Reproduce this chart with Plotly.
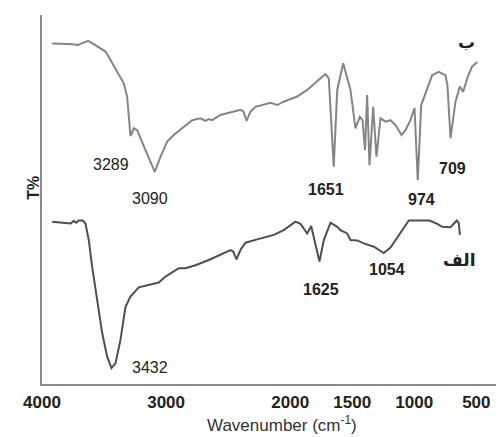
import plotly.graph_objects as go

# Upper spectrum (ب)
wn_b = [3918, 3746, 3716, 3690, 3628, 3593, 3488, 3448, 3394, 3341, 3314, 3301, 3287, 3260,
        3233, 3166, 3091, 3045, 2991, 2938, 2844, 2790, 2723, 2683, 2658, 2629, 2562, 2401,
        2376, 2352, 2320, 2280, 2159, 2105, 2054, 1944, 1863, 1783, 1716, 1689, 1649, 1621,
        1573, 1514, 1474, 1439, 1417, 1397, 1380, 1361, 1331, 1305, 1272, 1232, 1192, 1152,
        1103, 1071, 1031, 998, 972, 944, 896, 856, 803, 749, 733, 708, 668, 633, 606, 569,
        534, 493]
t_b = [92.3, 92.1, 91.8, 92.2, 93.0, 92.3, 90.1, 87.8, 84.6, 81.5, 77.9, 71.5, 67.2, 69.3,
       68.8, 63.4, 57.5, 61.6, 65.7, 67.5, 70.2, 71.5, 72.0, 71.3, 71.8, 71.5, 72.9, 74.3,
       73.8, 71.3, 73.8, 75.1, 76.2, 75.6, 76.5, 77.9, 79.7, 81.9, 84.0, 82.8, 58.9, 79.7,
       86.9, 79.7, 69.3, 72.4, 71.5, 63.4, 78.3, 59.3, 75.1, 61.6, 72.0, 71.1, 71.5, 70.2,
       67.5, 68.8, 71.5, 74.8, 55.3, 75.6, 80.1, 83.7, 84.6, 83.7, 81.0, 66.6, 76.5, 80.6,
       79.2, 83.3, 86.0, 87.3]

# Lower spectrum (الف)
wn_a = [3918, 3770, 3744, 3725, 3704, 3671, 3650, 3623, 3596, 3555, 3515, 3475, 3440, 3408,
        3368, 3327, 3287, 3220, 3139, 3059, 3005, 2938, 2898, 2844, 2763, 2642, 2481, 2459,
        2433, 2401, 2360, 2266, 2132, 2052, 1998, 1957, 1917, 1863, 1831, 1796, 1764, 1729,
        1675, 1621, 1595, 1541, 1514, 1460, 1407, 1326, 1246, 1192, 1119, 1044, 878, 815,
        775, 708, 658, 642, 632]
t_a = [44.0, 43.5, 44.2, 43.7, 44.3, 44.3, 43.5, 39.0, 31.8, 22.8, 13.8, 7.4, 4.3, 5.6,
       11.9, 20.9, 23.7, 26.2, 26.8, 27.5, 29.1, 30.6, 31.4, 31.4, 32.2, 33.8, 36.3, 35.9,
       33.8, 36.3, 38.3, 39.2, 40.4, 41.7, 43.1, 44.0, 43.4, 40.8, 42.8, 38.1, 33.2, 39.0,
       43.7, 42.6, 41.7, 40.8, 39.0, 38.9, 38.1, 37.2, 35.5, 37.0, 40.7, 44.3, 44.3, 43.4,
       42.6, 42.5, 44.3, 43.7, 40.4]

x_ticks = [4000, 3000, 2000, 1500, 1000, 500]

# Peak labels: (text, wavenumber, T, bold)
labels = [("3289", 3440, 59.6, False), ("3090", 3126, 50.4, False), ("1651", 1708, 52.6, True),
          ("974", 942, 49.9, True), ("709", 692, 58.5, True), ("3432", 3126, 4.6, False),
          ("1625", 1748, 25.7, True), ("1054", 1216, 30.9, True)]
series_names = [("ب", 579, 92.7), ("الف", 636, 33.6)]

fig = go.Figure()
fig.add_trace(go.Scatter(x=wn_b, y=t_b, mode="lines", line=dict(color="#858585", width=2),
                         name="ب", showlegend=False))
fig.add_trace(go.Scatter(x=wn_a, y=t_a, mode="lines", line=dict(color="#4f4f4f", width=2),
                         name="الف", showlegend=False))

for txt, x, y, bold in labels:
    fig.add_annotation(x=x, y=y, text=f"<b>{txt}</b>" if bold else txt, showarrow=False,
                       font=dict(family="Liberation Sans, Arial", size=16, color="#222"))
for txt, x, y in series_names:
    fig.add_annotation(x=x, y=y, text=f"<b>{txt}</b>", showarrow=False,
                       font=dict(family="DejaVu Sans", size=17, color="#222"))

fig.add_annotation(xref="paper", yref="paper", x=0.52, y=-0.072, yanchor="top",
                   text="Wavenumber (cm<sup>-1</sup>)", showarrow=False,
                   font=dict(family="Liberation Sans, Arial", size=17, color="#333"))
fig.add_annotation(xref="paper", yref="paper", x=-0.043, y=0.531, text="<b>T%</b>",
                   textangle=-90, showarrow=False,
                   font=dict(family="Liberation Sans, Arial", size=16, color="#222"))

fig.update_xaxes(range=[4000, 277], tickvals=x_ticks, ticktext=[str(v) for v in x_ticks],
                 showgrid=False, zeroline=False, showline=True, linecolor="#8a8a8a",
                 linewidth=1.5, ticks="", ticklen=0, ticklabelstandoff=2,
                 tickfont=dict(family="Liberation Sans, Arial", size=17, color="#222",
                               weight="bold"))
fig.update_yaxes(range=[0, 100], showgrid=False, zeroline=False, showline=True,
                 linecolor="#8a8a8a", linewidth=1.5, ticks="", showticklabels=False)

# page body adds an 8px offset; size the figure so it fills the 504x437 window
fig.update_layout(width=496, height=429, margin=dict(l=34, r=0, t=7, b=53),
                  plot_bgcolor="white", paper_bgcolor="white")

fig.write_html("out.html")
